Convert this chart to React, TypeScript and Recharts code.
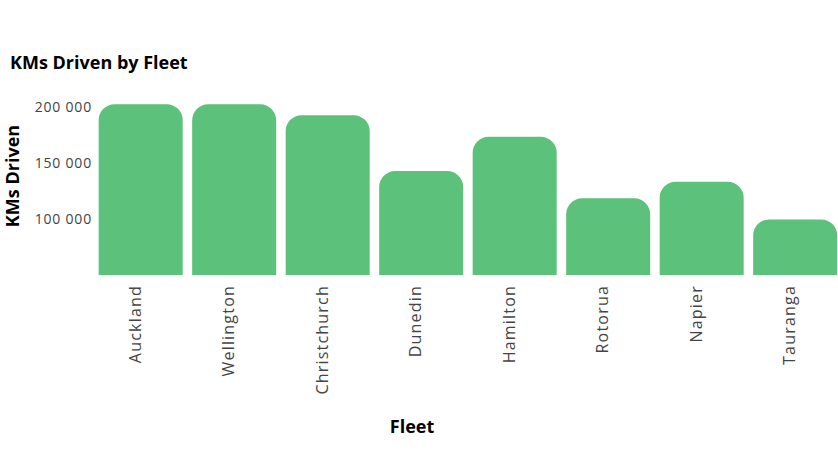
import { BarChart, Bar, XAxis, YAxis } from 'recharts'

const fleets = ['Auckland', 'Wellington', 'Christchurch', 'Dunedin', 'Hamilton', 'Rotorua', 'Napier', 'Tauranga']
const kms = [202700, 202600, 192900, 142900, 173500, 118500, 133300, 99700]
const yTicks = [100000, 150000, 200000]

const data = fleets.map((fleet, i) => ({ fleet, kms: kms[i] }))

const FONT = "'Open Sans', sans-serif"
const fmt = (v: number) => v.toLocaleString('en-US').replace(/,/g, ' ')

const FleetTick = ({ x, y, payload }: any) => (
  <text x={x} y={y} transform={`rotate(-90, ${x}, ${y})`} textAnchor="end" fill="#444" fontSize={16} letterSpacing={1.2} fontFamily={FONT}>
    {payload.value}
  </text>
)

export default function App() {
  return (
    <div style={{ position: 'absolute', left: 0, top: 0, width: 838, height: 451, overflow: 'hidden', background: '#fff' }}>
      <div style={{ position: 'absolute', left: 10, top: 50, fontFamily: FONT, fontWeight: 700, fontSize: 18, color: '#000' }}>
        KMs Driven by Fleet
      </div>
      <BarChart width={842} height={451} data={data} margin={{ top: 96, right: 0, bottom: 0, left: 0 }} barCategoryGap="5%">
        <XAxis
          dataKey="fleet"
          height={176}
          axisLine={false}
          tickLine={false}
          interval={0}
          tickSize={0}
          tickMargin={10}
          tick={<FleetTick />}
          label={{
            content: () => (
              <text x={412} y={433} textAnchor="middle" fontFamily={FONT} fontWeight={700} fontSize={18} fill="#000">Fleet</text>
            ),
          }}
        />
        <YAxis
          width={94}
          domain={[50000, 210000]}
          ticks={yTicks}
          allowDataOverflow
          axisLine={false}
          tickLine={false}
          tickSize={0}
          tickMargin={2}
          tickFormatter={fmt}
          tick={{ fill: '#444', fontSize: 14, fontFamily: FONT, letterSpacing: 0.8 }}
          label={{
            content: () => (
              <text x={19} y={176} transform="rotate(-90, 19, 176)" textAnchor="middle" fontFamily={FONT} fontWeight={700} fontSize={18} fill="#000">KMs Driven</text>
            ),
          }}
        />
        <Bar dataKey="kms" fill="#5bc17b" radius={[16, 16, 0, 0]} isAnimationActive={false} />
      </BarChart>
    </div>
  )
}
